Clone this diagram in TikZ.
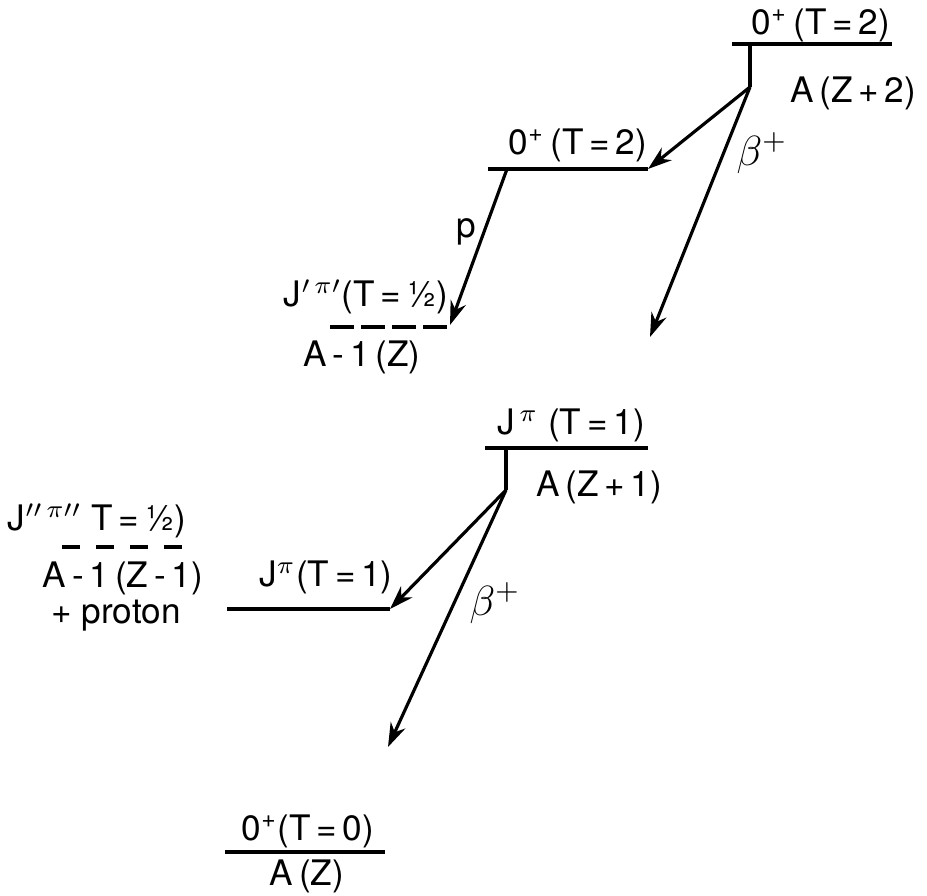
\documentclass[tikz,border=0pt]{standalone}
\usepackage{fontspec}
\setmainfont{TeX Gyre Heros}
\usetikzlibrary{arrows.meta}

\begin{document}
\begin{tikzpicture}[
    level/.style={line width=1.1pt},
    sublevel/.style={level, dash pattern=on 2.4mm off 0.7mm},
    sublevelB/.style={level, dash pattern=on 1.8mm off 1.6mm},
    stub/.style={line width=0.9pt},
    decay/.style={-{Stealth[length=2.4mm, width=1.6mm]}, line width=0.9pt},
    lbl/.style={font=\fontsize{10}{12}\selectfont, inner sep=0pt},
    lblB/.style={lbl, font=\fontsize{12}{14}\selectfont},
]
\useasboundingbox (0,0) rectangle (9.27,-8.96);

% parent A(Z+2)
\coordinate (Z2a) at (7.32,-0.44);
\coordinate (Z2b) at (8.92,-0.44);
\coordinate (Z2s) at (7.50,-0.44);
\coordinate (Z2d) at (7.50,-0.87);
\draw[level] (Z2a) -- (Z2b);
\draw[stub] (Z2s) -- (Z2d);
\node[lbl] (Z2t) at (8.21,-0.25) {0\textsuperscript{+}\,(T\,=\,2)};
\node[lbl] (Z2n) at (8.53,-0.93) {A\,(Z\,+\,2)};

% analogue state in A(Z+1)
\coordinate (Z1a) at (4.88,-1.69);
\coordinate (Z1b) at (6.48,-1.69);
\coordinate (Z1s) at (5.07,-1.69);
\draw[level] (Z1a) -- (Z1b);
\node[lbl] (Z1t) at (5.78,-1.45) {0\textsuperscript{+}\,(T\,=\,2)};

% A-1(Z)
\coordinate (P1a) at (3.30,-3.27);
\coordinate (P1b) at (4.48,-3.27);
\coordinate (P1e) at (4.50,-3.25);
\draw[sublevel] (P1a) -- (P1b);
\node[lbl] (P1t) at (3.66,-2.97) {J$^{\prime\,\pi\prime}$(T\,=\,\textonehalf)};
\node[lbl, anchor=north] (P1n) at (3.62,-3.40) {A\,-\,1\,(Z)};

\coordinate (B1e) at (6.50,-3.37);
\draw[decay] (Z2d) -- (Z1b);
\draw[decay] (Z2d) -- (B1e);
\draw[decay] (Z1s) -- (P1e);
\node[lblB] (B1) at (7.62,-1.53) {$\beta^+$};
\node[lbl] (pr) at (4.66,-2.32) {p};

% A(Z+1)
\coordinate (Y1a) at (4.85,-4.48);
\coordinate (Y1b) at (6.48,-4.48);
\coordinate (Y1s) at (5.06,-4.48);
\coordinate (Y1d) at (5.06,-4.90);
\draw[level] (Y1a) -- (Y1b);
\draw[stub] (Y1s) -- (Y1d);
\node[lbl] (Y1t) at (5.71,-4.25) {J$^{\,\pi}$ (T\,=\,1)};
\node[lbl] (Y1n) at (5.99,-4.87) {A\,(Z\,+\,1)};

% A-1(Z-1) + proton
\coordinate (P2a) at (0.62,-5.47);
\coordinate (P2b) at (1.82,-5.47);
\draw[sublevelB] (P2a) -- (P2b);
\node[lbl] (P2t) at (0.97,-5.21) {J$^{\prime\prime\,\pi\prime\prime}$ T\,=\,\textonehalf)};
\node[lbl, anchor=north] (P2n) at (1.23,-5.61) {A\,-\,1\,(Z\,-\,1)};
\node[lbl, anchor=north] (P2p) at (1.16,-5.99) {+ proton};

% analogue state in A(Z)
\coordinate (Y0a) at (2.27,-6.09);
\coordinate (Y0b) at (3.90,-6.09);
\draw[level] (Y0a) -- (Y0b);
\node[lbl] (Y0t) at (3.26,-5.77) {J$^{\pi}$(T\,=\,1)};

% ground state A(Z)
\coordinate (G0a) at (2.25,-8.52);
\coordinate (G0b) at (3.85,-8.52);
\draw[level] (G0a) -- (G0b);
\node[lbl] (G0t) at (3.08,-8.31) {0\textsuperscript{+}(T\,=\,0)};
\node[lbl] (G0n) at (3.07,-8.76) {A\,(Z)};

\coordinate (B2e) at (3.88,-7.47);
\draw[decay] (Y1d) -- (Y0b);
\draw[decay] (Y1d) -- (B2e);
\node[lblB] (B2) at (4.95,-6.03) {$\beta^+$};
\end{tikzpicture}
\end{document}
